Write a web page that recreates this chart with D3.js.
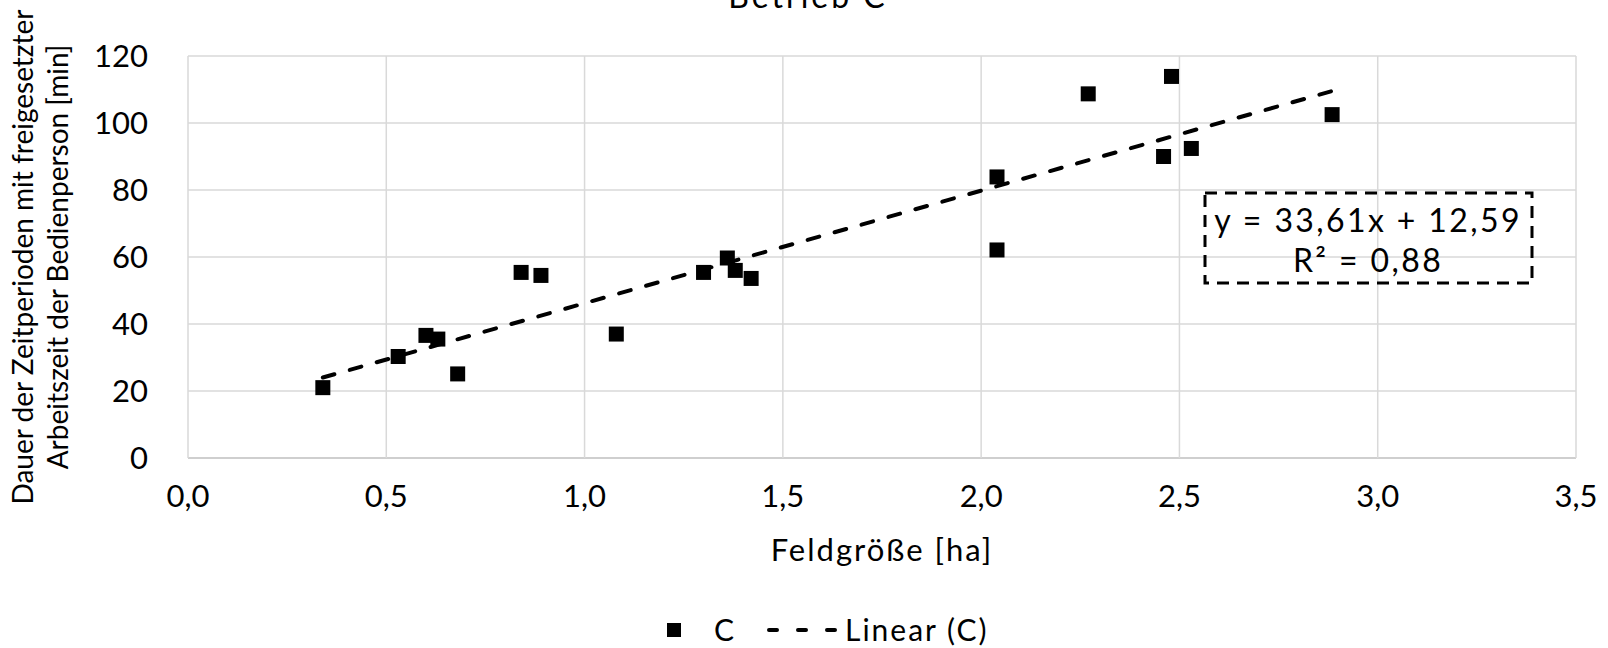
<!DOCTYPE html>
<html>
<head>
<meta charset="utf-8">
<script src="https://cdn.jsdelivr.net/npm/d3@7"></script>
<style>
  body { margin: 0; background: #fff; }
  svg { font-family: Lato, "Open Sans", sans-serif; }
</style>
</head>
<body>
<svg id="chart" width="1608" height="648"></svg>
<script>
// Feldgröße [ha] vs. Dauer [min], Betrieb C
const fieldSize = [0.34, 0.53, 0.60, 0.63, 0.68, 0.84, 0.89, 1.08, 1.30, 1.36, 1.38, 1.42,
                   2.04, 2.04, 2.27, 2.48, 2.46, 2.53, 2.885];
const duration  = [21.0, 30.3, 36.6, 35.5, 25.1, 55.4, 54.5, 37.0, 55.4, 59.7, 56.0, 53.6,
                   83.9, 62.1, 108.7, 113.9, 90.0, 92.4, 102.5];
const xTicks = [0, 0.5, 1, 1.5, 2, 2.5, 3, 3.5];
const yTicks = [0, 20, 40, 60, 80, 100, 120];
const slope = 33.61, intercept = 12.59, r2 = 0.88;

const svg = d3.select('#chart');
const margin = { top: 56, right: 32, bottom: 190, left: 188 };
const width = 1608, height = 648;

const x = d3.scaleLinear().domain([0, 3.5]).range([margin.left, width - margin.right]);
const y = d3.scaleLinear().domain([0, 120]).range([height - margin.bottom, margin.top]);

const fmt = d => d3.format('.1f')(d).replace('.', ',');
const de = v => String(v).replace('.', ',');

// gridlines
svg.append('g')
  .selectAll('line')
  .data(yTicks)
  .enter().append('line')
  .attr('x1', x(0)).attr('x2', x(3.5))
  .attr('y1', d => y(d)).attr('y2', d => y(d))
  .attr('stroke', d => d === 0 ? '#bfbfbf' : '#d9d9d9')
  .attr('stroke-width', 1.5);

svg.append('g')
  .selectAll('line')
  .data(xTicks)
  .enter().append('line')
  .attr('x1', d => x(d)).attr('x2', d => x(d))
  .attr('y1', y(0)).attr('y2', y(120))
  .attr('stroke', '#d9d9d9')
  .attr('stroke-width', 1.5);

// tick labels
svg.append('g')
  .selectAll('text')
  .data(yTicks)
  .enter().append('text')
  .attr('x', 148)
  .attr('y', d => y(d))
  .attr('dy', '0.36em')
  .attr('text-anchor', 'end')
  .style('font-size', '31px')
  .text(d => d);

svg.append('g')
  .selectAll('text')
  .data(xTicks)
  .enter().append('text')
  .attr('x', d => x(d))
  .attr('y', 507)
  .attr('text-anchor', 'middle')
  .style('font-size', '31px')
  .text(fmt);

// axis titles
svg.append('text')
  .attr('x', x(1.75))
  .attr('y', 561)
  .attr('text-anchor', 'middle')
  .style('font-size', '31px')
  .style('letter-spacing', '2px')
  .text('Feldgröße [ha]');

const yTitle = svg.append('text')
  .attr('transform', `translate(0, ${(y(0) + y(120)) / 2}) rotate(-90)`)
  .attr('text-anchor', 'middle')
  .style('font-size', '28px');
yTitle.append('tspan').attr('x', 0).attr('y', 33).text('Dauer der Zeitperioden mit freigesetzter');
yTitle.append('tspan').attr('x', 0).attr('y', 68).text('Arbeitszeit der Bedienperson [min]');

// chart title (mostly cut off at top)
svg.append('text')
  .attr('x', 808)
  .attr('y', 8)
  .attr('text-anchor', 'middle')
  .style('font-size', '32px')
  .style('letter-spacing', '3px')
  .text('Betrieb C');

// trendline
const xExt = d3.extent(fieldSize);
svg.append('line')
  .attr('x1', x(xExt[0])).attr('y1', y(slope * xExt[0] + intercept))
  .attr('x2', x(xExt[1])).attr('y2', y(slope * xExt[1] + intercept))
  .attr('stroke', '#000')
  .attr('stroke-width', 4)
  .attr('stroke-linecap', 'round')
  .attr('stroke-dasharray', '12,16');

// points
const ms = 15;
svg.append('g')
  .selectAll('rect')
  .data(fieldSize.map((d, i) => [d, duration[i]]))
  .enter().append('rect')
  .attr('x', d => x(d[0]) - ms / 2)
  .attr('y', d => y(d[1]) - ms / 2)
  .attr('width', ms)
  .attr('height', ms)
  .attr('fill', '#000');

// equation box
svg.append('rect')
  .attr('x', 1205).attr('y', 193)
  .attr('width', 327).attr('height', 90)
  .attr('fill', 'none')
  .attr('stroke', '#000')
  .attr('stroke-width', 3)
  .attr('stroke-dasharray', '12,8');

const eq = svg.append('text')
  .attr('text-anchor', 'middle')
  .style('font-size', '32px')
  .style('letter-spacing', '2.4px');
eq.append('tspan').attr('x', 1368).attr('y', 232)
  .text(`y = ${de(slope)}x + ${de(intercept)}`);
eq.append('tspan').attr('x', 1368).attr('y', 272)
  .text(`R² = ${de(r2)}`);

// legend
const lg = svg.append('g');
lg.append('rect')
  .attr('x', 667).attr('y', 623)
  .attr('width', 14).attr('height', 14)
  .attr('fill', '#000');
lg.append('text')
  .attr('x', 714).attr('y', 641)
  .style('font-size', '30px')
  .text('C');
lg.append('line')
  .attr('x1', 769).attr('x2', 835)
  .attr('y1', 630).attr('y2', 630)
  .attr('stroke', '#000')
  .attr('stroke-width', 4)
  .attr('stroke-linecap', 'round')
  .attr('stroke-dasharray', '8,21');
lg.append('text')
  .attr('x', 845).attr('y', 641)
  .style('font-size', '30px')
  .style('letter-spacing', '2px')
  .text('Linear (C)');
</script>
</body>
</html>
